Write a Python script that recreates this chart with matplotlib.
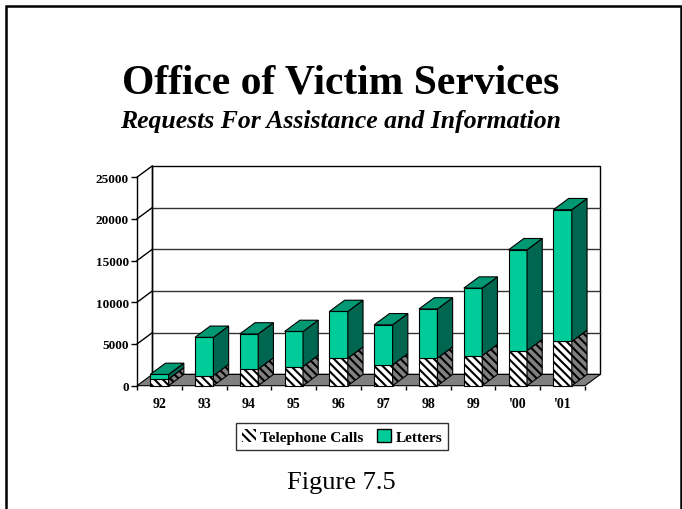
import matplotlib
matplotlib.use('Agg')
import matplotlib.pyplot as plt
from matplotlib.patches import Polygon, Rectangle, Patch

plt.rcParams['font.family'] = ['Liberation Serif', 'DejaVu Serif']
plt.rcParams['hatch.linewidth'] = 1.5

years = ['92', '93', '94', '95', '96', '97', '98', '99', "'00", "'01"]
calls = [800, 1200, 2000, 2300, 3300, 2500, 3300, 3600, 4200, 5300]
letters = [550, 4600, 4200, 4200, 5600, 4800, 5900, 8100, 12100, 15800]
yticks = [0, 5000, 10000, 15000, 20000, 25000]

# depth of the fake 3d box, in data units
dx = 0.34
dy = 1350
w = 0.41

green_front = '#00cc99'
green_top = '#009973'
green_side = '#006650'

fig = plt.figure(figsize=(6.82, 5.10), dpi=100)
ax = fig.add_axes([0.2009, 0.2418, 0.6832, 0.4317])
ax.set_xlim(0, 10.4)
ax.set_ylim(0, 26400)
for s in ax.spines.values():
    s.set_visible(False)

n = len(years)
top = yticks[-1]

# back wall
ax.add_patch(Polygon([(dx, dy), (n + dx, dy), (n + dx, top + dy), (dx, top + dy)],
                     facecolor='white', edgecolor='black', lw=1, zorder=1, clip_on=False))
for v in yticks[1:-1]:
    ax.plot([dx, n + dx], [v + dy, v + dy], color='#333333', lw=1, zorder=1.5)
# left side wall
for v in yticks[1:]:
    ax.plot([0, dx], [v, v + dy], color='black', lw=1, zorder=1.5, clip_on=False)
ax.plot([dx, dx], [dy, top + dy], color='black', lw=1, zorder=1.5)
# floor
ax.add_patch(Polygon([(0, 0), (n, 0), (n + dx, dy), (dx, dy)],
                     facecolor='#808080', edgecolor='black', lw=0.8, zorder=2, clip_on=False))
# front axis
ax.plot([0, 0], [0, top], color='black', lw=1, zorder=2, clip_on=False)


def box(x0, b, t, front, side, topc, hatch=None, draw_top=True):
    ax.add_patch(Polygon([(x0, b), (x0 + w, b), (x0 + w, t), (x0, t)], facecolor=front,
                         edgecolor='black', lw=0.8, hatch=hatch, zorder=3, clip_on=False))
    ax.add_patch(Polygon([(x0 + w, b), (x0 + w + dx, b + dy), (x0 + w + dx, t + dy), (x0 + w, t)],
                         facecolor=side, edgecolor='black', lw=0.8, hatch=hatch, zorder=3, clip_on=False))
    if draw_top:
        ax.add_patch(Polygon([(x0, t), (x0 + dx, t + dy), (x0 + w + dx, t + dy), (x0 + w, t)],
                             facecolor=topc, edgecolor='black', lw=0.8, zorder=3, clip_on=False))


for i in range(n):
    x0 = i + 0.5 - w / 2
    box(x0, 0, calls[i], 'white', '#808080', 'white', hatch='\\\\\\\\', draw_top=False)
    box(x0, calls[i], calls[i] + letters[i], green_front, green_side, green_top)

ax.set_yticks(yticks)
ax.set_yticklabels([str(v) for v in yticks], fontsize=9.5, fontweight='bold')
ax.tick_params(axis='y', length=4, width=1, pad=2)
ax.set_xticks([i + 0.5 for i in range(n)])
ax.set_xticklabels(years, fontsize=10, fontweight='bold')
ax.set_xticks(range(n + 1), minor=True)
ax.tick_params(axis='x', which='major', length=0, pad=8)
ax.tick_params(axis='x', which='minor', length=3, width=1)

fig.text(0.5, 0.8157, 'Office of Victim Services', ha='center', va='baseline',
         fontsize=30, fontweight='bold')
fig.text(0.5, 0.749, 'Requests For Assistance and Information', ha='center', va='baseline',
         fontsize=18.5, fontweight='bold', fontstyle='italic')
fig.text(0.5, 0.041, 'Figure 7.5', ha='center', va='baseline', fontsize=19)

handles = [Patch(facecolor='white', edgecolor='black', lw=0, hatch='\\\\\\\\'),
           Patch(facecolor=green_front, edgecolor='black', lw=1)]
leg = fig.legend(handles, ['Telephone Calls', 'Letters'], loc='center',
                 bbox_to_anchor=(0.5015, 0.142), ncol=2, frameon=True, fancybox=False,
                 handlelength=0.9, handleheight=0.9, handletextpad=0.3, columnspacing=0.9,
                 borderpad=0.4, prop={'size': 11, 'weight': 'bold'})
leg.get_frame().set_edgecolor('black')
leg.get_frame().set_linewidth(1)

# page border
fig.add_artist(Rectangle((6 / 682, -0.1), 675 / 682, 1.1 - 7 / 510, transform=fig.transFigure,
                         fill=False, edgecolor='black', lw=1.8, clip_on=False))

fig.savefig('out.png', dpi=100)
